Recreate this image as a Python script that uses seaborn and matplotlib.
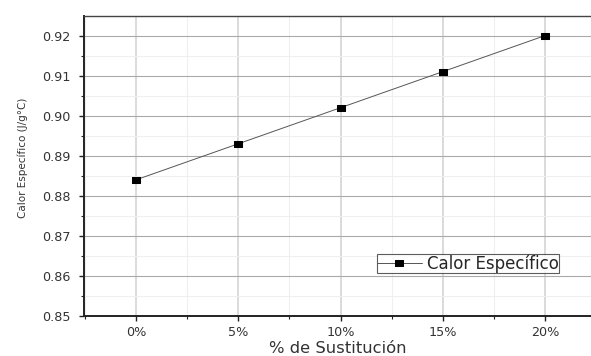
import matplotlib
matplotlib.use("Agg")
import matplotlib.pyplot as plt
from matplotlib.ticker import MultipleLocator, FormatStrFormatter
import seaborn as sns
import pandas as pd

# Data
sustitucion = ["0%", "5%", "10%", "15%", "20%"]
calor_especifico = [0.884, 0.893, 0.902, 0.911, 0.920]

df = pd.DataFrame({"pos": range(len(sustitucion)), "cp": calor_especifico})

sns.set_theme(style="white")
plt.rcParams["font.family"] = ["DejaVu Sans"]

fig = plt.figure(figsize=(5.91, 3.56), dpi=100)
ax = fig.add_axes([0.1421, 0.1124, 0.8579, 0.8427])

# wide, flat square marker
rect_marker = [(-1.45, -1.0), (1.45, -1.0), (1.45, 1.0), (-1.45, 1.0), (-1.45, -1.0)]

sns.lineplot(data=df, x="pos", y="cp", ax=ax, color="#555555", linewidth=0.7,
             marker=rect_marker, markersize=6, markerfacecolor="black",
             markeredgecolor="black", label="Calor Específico")

ax.set_xlim(-0.51, 4.45)
ax.set_ylim(0.85, 0.9249)
ax.set_xticks(range(len(sustitucion)))
ax.set_xticklabels(sustitucion)
ax.xaxis.set_minor_locator(MultipleLocator(0.5))
ax.yaxis.set_major_locator(MultipleLocator(0.01))
ax.yaxis.set_minor_locator(MultipleLocator(0.005))
ax.yaxis.set_major_formatter(FormatStrFormatter("%.2f"))

# Grid
ax.grid(which="major", axis="y", color="#aaaaaa", linewidth=0.8)
ax.grid(which="major", axis="x", color="#dadada", linewidth=1.4)
ax.grid(which="minor", color="#efefef", linewidth=0.8)
ax.set_axisbelow(True)

# Spines
for side in ("left", "bottom"):
    ax.spines[side].set_linewidth(1.4)
    ax.spines[side].set_color("#222222")
ax.spines["top"].set_linewidth(1.0)
ax.spines["top"].set_color("#444444")
ax.spines["right"].set_visible(False)

ax.tick_params(which="major", direction="out", length=3.5, width=1.0,
               color="#222222", labelsize=9.2, labelcolor="#333333",
               left=True, bottom=True)
ax.tick_params(which="minor", direction="out", length=2.5, width=0.8,
               color="#222222", left=True, bottom=True)
ax.tick_params(axis="x", pad=4)
ax.tick_params(axis="y", pad=6)

ax.set_xlabel("% de Sustitución", fontsize=11.8, color="#333333")
ax.xaxis.set_label_coords(0.5, -0.11)
ax.xaxis.label.set_va("center")

ax.set_ylabel("Calor Específico (J/g°C)", fontsize=7.5, color="#333333")
ax.yaxis.set_label_coords(-0.121, 0.528)
ax.yaxis.label.set_va("center")

leg = ax.legend(loc="lower right", bbox_to_anchor=(0.937, 0.143),
                fontsize=12, frameon=True, fancybox=False,
                handlelength=2.7, handletextpad=0.3, borderpad=0.02,
                borderaxespad=0)
leg.get_frame().set_edgecolor("#333333")
leg.get_frame().set_linewidth(0.8)

fig.savefig("out.png", dpi=100)
